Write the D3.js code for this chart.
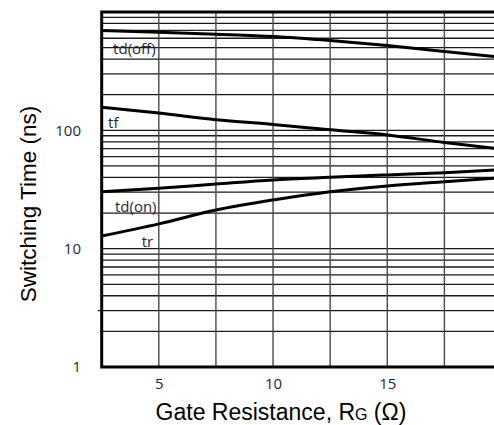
<!DOCTYPE html>
<html>
<head>
<meta charset="utf-8">
<script src="https://cdn.jsdelivr.net/npm/d3@7"></script>
<style>
  body { margin: 0; background: #fff; }
  svg { display: block; }
</style>
</head>
<body>
<script>
'use strict';

// gate resistance (ohm)
const rg = [2.5, 5, 7.5, 10, 12.5, 15, 17.5, 19.7];
// switching times (ns)
const tdOff = [697, 675, 649, 620, 573, 520, 463, 420];
const tf = [157, 140, 123, 112, 101, 91.5, 79, 70.6];
const tdOn = [30.3, 32.4, 35.2, 38.1, 40.1, 42, 43.9, 46.3];
const tr = [12.8, 16.2, 21.2, 25.8, 30.3, 33.9, 36.8, 39.4];

const xTicks = [5, 10, 15];
const yTicks = [1, 10, 100];
const xGrid = [5, 7.5, 10, 12.5, 15, 17.5];

// curve labels: [text, x value, y value]
const curveLabels = [
  ['td(off)', 3.0, 444],
  ['tf', 2.78, 105],
  ['td(on)', 3.08, 20.5],
  ['tr', 4.25, 10.4]
];

const width = 494, height = 425;
const m = {left: 101.7, right: 501.5, top: 12, bottom: 367};

const svg = d3.select('body').append('svg')
  .attr('width', width)
  .attr('height', height);

const x = d3.scaleLinear().domain([2.5, 20]).range([m.left, m.right]);
const y = d3.scaleLog().domain([1, 1000]).range([m.bottom, m.top]);

// horizontal grid (log minor lines)
svg.append('g')
  .selectAll('line')
  .data(y.ticks().filter(d => d > 1 && d < 1000))
  .enter()
  .append('line')
    .attr('x1', d => d === 3 ? m.left - 4 : m.left)
    .attr('x2', width)
    .attr('y1', d => y(d))
    .attr('y2', d => y(d))
    .attr('stroke', '#1a1a1a')
    .attr('stroke-width', 1.3);

// vertical grid
svg.append('g')
  .selectAll('line')
  .data(xGrid)
  .enter()
  .append('line')
    .attr('x1', d => x(d))
    .attr('x2', d => x(d))
    .attr('y1', m.top)
    .attr('y2', m.bottom)
    .attr('stroke', '#4a4a4a')
    .attr('stroke-width', 1.4);

// frame
svg.append('path')
  .attr('d', 'M' + (width + 5) + ',' + m.top + 'H' + m.left + 'V' + m.bottom + 'H' + (width + 5))
  .attr('fill', 'none')
  .attr('stroke', '#000')
  .attr('stroke-width', 3);

// curves
const line = d3.line()
  .x((d, i) => x(rg[i]))
  .y(d => y(d))
  .curve(d3.curveMonotoneX);

[tdOff, tf, tdOn, tr].forEach(s => {
  svg.append('path')
    .datum(s)
    .attr('d', line)
    .attr('fill', 'none')
    .attr('stroke', '#000')
    .attr('stroke-width', 3);
});

// curve labels
svg.append('g')
  .selectAll('text')
  .data(curveLabels)
  .enter()
  .append('text')
    .attr('x', d => x(d[1]))
    .attr('y', d => y(d[2]))
    .attr('font-family', 'Open Sans, sans-serif')
    .attr('font-size', 15)
    .attr('fill', '#1e2740')
    .text(d => d[0]);

// x axis labels
const xAxis = d3.axisBottom(x).tickValues(xTicks).tickSize(0).tickPadding(0);
const gx = svg.append('g')
  .attr('transform', 'translate(0,378)')
  .call(xAxis);
gx.select('.domain').remove();
gx.selectAll('text')
  .attr('font-family', 'Open Sans, sans-serif')
  .attr('font-size', 15)
  .attr('fill', '#1e2740');

// y axis labels
const yAxis = d3.axisLeft(y).tickValues(yTicks).tickFormat(d3.format('d')).tickSize(0).tickPadding(0);
const gy = svg.append('g')
  .attr('transform', 'translate(81,0)')
  .call(yAxis);
gy.select('.domain').remove();
gy.selectAll('text')
  .attr('font-family', 'Open Sans, sans-serif')
  .attr('font-size', 15)
  .attr('fill', '#1e2740');

// axis titles
const xt = svg.append('text')
  .attr('x', 281)
  .attr('y', 420)
  .attr('text-anchor', 'middle')
  .attr('font-family', 'Liberation Sans, Arial, sans-serif')
  .attr('font-size', 23)
  .attr('fill', '#000');
xt.append('tspan').text('Gate Resistance, R');
xt.append('tspan').attr('font-size', 16).text('G');
xt.append('tspan').text(' (Ω)');

svg.append('text')
  .attr('transform', 'translate(36,204)rotate(-90)')
  .attr('text-anchor', 'middle')
  .attr('font-family', 'Liberation Sans, Arial, sans-serif')
  .attr('font-size', 22.5)
  .attr('fill', '#000')
  .text('Switching Time (ns)');
</script>
</body>
</html>
